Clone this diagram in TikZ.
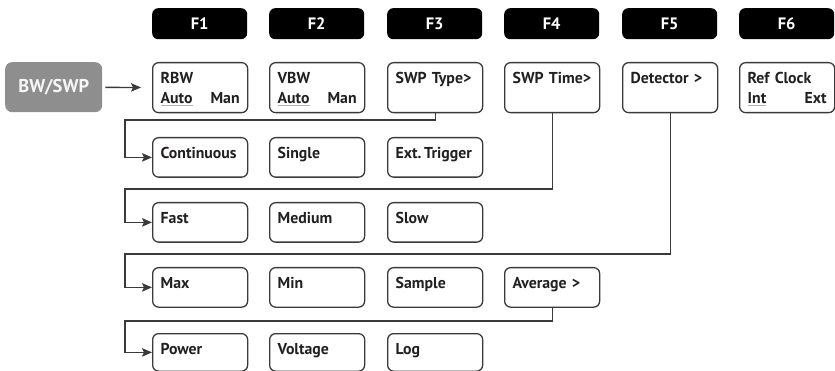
\documentclass[tikz,border=0pt]{standalone}
\usepackage{fontspec}
\setmainfont{PT Sans}
\usetikzlibrary{arrows.meta}
\definecolor{linec}{HTML}{3A3A3A}
\definecolor{txtc}{HTML}{231F20}
\definecolor{btngray}{HTML}{8E8E8E}
\newcommand\grayul[1]{\leavevmode\setbox0\hbox{#1}\rlap{\textcolor{gray!60}{\rule[-2.6pt]{\wd0}{1.2pt}}}\box0}
\begin{document}
\begin{tikzpicture}[x=1pt,y=-1pt,
  fkey/.style={fill=black, rounded corners=6pt, minimum width=95pt, minimum height=31pt,
    anchor=north west, text=white, font=\bfseries\fontsize{16.5}{18}\selectfont, inner sep=0pt},
  menubox/.style={draw=linec, line width=1.3pt, rounded corners=6pt, anchor=north west,
    inner xsep=8pt, inner ysep=0pt, text width=79pt, text height=21pt, text depth=18.5pt,
    align=left, text=txtc, font=\bfseries\fontsize{15.8}{20}\selectfont},
  tallbox/.style={menubox, text depth=29pt},
  lastbox/.style={menubox, text depth=16.5pt},
  conn/.style={draw=linec, line width=1.3pt, -{Stealth[length=10pt,width=8.5pt,inset=2pt]}},
]
\useasboundingbox (0,0) rectangle (835,371);
% function keys
\node[fkey] (f1) at (152,8) {F1};
\node[fkey] (f2) at (269,8) {F2};
\node[fkey] (f3) at (387,8) {F3};
\node[fkey] (f4) at (504,8) {F4};
\node[fkey] (f5) at (622,8) {F5};
\node[fkey] (f6) at (739,8) {F6};
% BW/SWP
\node[fill=btngray, rounded corners=7pt, minimum width=97pt, minimum height=50pt, anchor=north west,
  inner sep=0pt, text=white!94!gray, font=\bfseries\fontsize{18.5}{20}\selectfont] (bwswp) at (5,62) {BW/SWP};
% row 1
\node[tallbox] (rbw) at (152,62) {RBW\\\grayul{Auto}\hfill Man};
\node[tallbox] (vbw) at (269,62) {VBW\\\grayul{Auto}\hfill Man};
\node[tallbox] (swptype) at (387,62) {\mbox{SWP Type>}};
\node[tallbox] (swptime) at (504,62) {\mbox{SWP Time>}};
\node[tallbox] (detector) at (622,62) {\mbox{Detector >}};
\node[tallbox] (refclk) at (739,62) {Ref Clock\\\grayul{Int}\hfill Ext};
% row 2
\node[menubox] (cont) at (152,137) {Continuous};
\node[menubox] (single) at (269,137) {Single};
\node[menubox] (exttrig) at (387,137) {\mbox{Ext.\,Trigger}};
% row 3
\node[menubox] (fast) at (152,202) {Fast};
\node[menubox] (medium) at (269,202) {Medium};
\node[menubox] (slow) at (387,202) {Slow};
% row 4
\node[menubox] (max) at (152,267) {Max};
\node[menubox] (min) at (269,267) {Min};
\node[menubox] (sample) at (387,267) {Sample};
\node[menubox] (average) at (504,267) {\mbox{Average >}};
% row 5
\node[lastbox] (power) at (152,333) {Power};
\node[lastbox] (voltage) at (269,333) {Voltage};
\node[lastbox] (log) at (387,333) {Log};
% bend points
\coordinate (h1) at (125,120);
\coordinate (h2) at (125,189);
\coordinate (h3) at (125,254);
\coordinate (h4) at (125,321);
% connectors
\draw[conn, shorten >=11pt, shorten <=3pt] (bwswp) -- (rbw);
\draw[conn] (swptype.south) |- (h1) |- (cont.west);
\draw[conn] (swptime.south) |- (h2) |- (fast.west);
\draw[conn] (detector.south) |- (h3) |- (max.west);
\draw[conn] (average.south) |- (h4) |- (power.west);
\end{tikzpicture}
\end{document}
